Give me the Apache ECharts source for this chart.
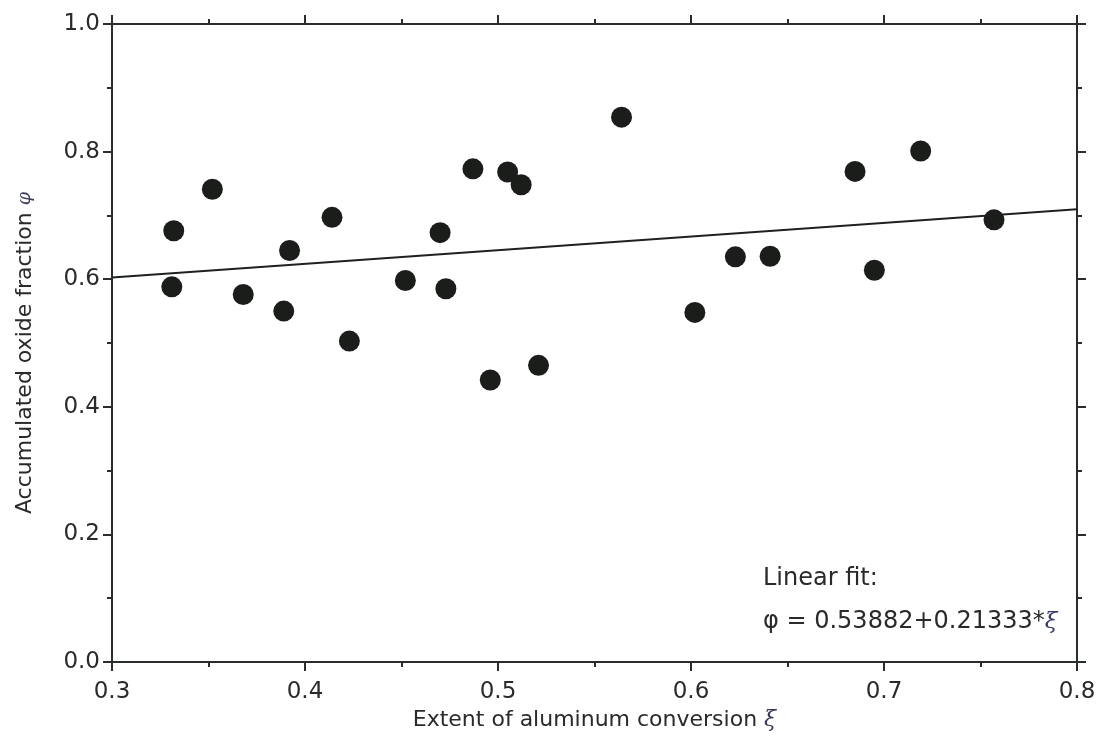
<!DOCTYPE html>
<html>
<head>
<meta charset="utf-8">
<script src="https://cdn.jsdelivr.net/npm/echarts@6/dist/echarts.min.js"></script>
<style>
html,body{margin:0;padding:0;background:#fff;}
#c{width:1099px;height:754px;}
</style>
</head>
<body>
<div id="c"></div>
<script>
// Data
const xi = [0.332, 0.331, 0.352, 0.368, 0.389, 0.392, 0.414, 0.423, 0.452, 0.470, 0.473, 0.487,
            0.496, 0.505, 0.512, 0.521, 0.564, 0.602, 0.623, 0.641, 0.685, 0.695, 0.719, 0.757];
const phi = [0.676, 0.588, 0.741, 0.576, 0.550, 0.645, 0.697, 0.503, 0.598, 0.673, 0.585, 0.773,
             0.442, 0.768, 0.748, 0.465, 0.854, 0.548, 0.635, 0.636, 0.769, 0.614, 0.801, 0.693];
const fitIntercept = 0.53882;
const fitSlope = 0.21333;
const fitRange = [0.3, 0.8];
const xTicks = [0.3, 0.8, 0.1];   // min, max, interval
const yTicks = [0.0, 1.0, 0.2];

const points = xi.map((x, i) => [x, phi[i]]);
const fitLine = fitRange.map(x => [x, fitIntercept + fitSlope * x]);

const axisColor = '#2a2e2a';
const textColor = '#2a2a2a';
const font = 'DejaVu Sans, Verdana, sans-serif';

function xAxisDef(pos, showLabel) {
  return {
    type: 'value', position: pos, min: xTicks[0], max: xTicks[1], interval: xTicks[2],
    axisLine: {show: true, onZero: false, lineStyle: {color: axisColor, width: 2}},
    axisTick: {show: true, inside: false, length: 9, lineStyle: {color: axisColor, width: 2}},
    minorTick: {show: true, splitNumber: 2, length: 5, lineStyle: {color: axisColor, width: 2}},
    splitLine: {show: false},
    axisLabel: {show: showLabel, color: textColor, fontFamily: font, fontSize: 23, margin: 19,
                formatter: v => v.toFixed(1)}
  };
}
function yAxisDef(pos, showLabel) {
  return {
    type: 'value', position: pos, min: yTicks[0], max: yTicks[1], interval: yTicks[2],
    axisLine: {show: true, onZero: false, lineStyle: {color: axisColor, width: 2}},
    axisTick: {show: true, inside: false, length: 9, lineStyle: {color: axisColor, width: 2}},
    minorTick: {show: true, splitNumber: 2, length: 5, lineStyle: {color: axisColor, width: 2}},
    splitLine: {show: false},
    axisLabel: {show: showLabel, color: textColor, fontFamily: font, fontSize: 23, margin: 12,
                formatter: v => v.toFixed(1)}
  };
}

const xb = xAxisDef('bottom', true);
xb.name = '{n|Extent of aluminum conversion }{i|ξ}';
xb.nameLocation = 'middle';
xb.nameGap = 45;
xb.nameTextStyle = {rich: {
  n: {fontFamily: font, fontSize: 22, color: textColor},
  i: {fontFamily: 'DejaVu Serif, serif', fontStyle: 'italic', fontSize: 22, color: '#3a3a5a'}
}};
const yl = yAxisDef('left', true);
yl.name = '{n|Accumulated oxide fraction }{i|φ}';
yl.nameLocation = 'middle';
yl.nameRotate = 90;
yl.nameGap = 76;
yl.nameTextStyle = {rich: {
  n: {fontFamily: font, fontSize: 22, color: textColor},
  i: {fontFamily: 'DejaVu Serif, serif', fontStyle: 'italic', fontSize: 19, color: '#3a3a5a',
      padding: [0, 20, 0, 0]}
}};

const chart = echarts.init(document.getElementById('c'), null, {renderer: 'canvas'});
chart.setOption({
  animation: false,
  backgroundColor: '#ffffff',
  grid: {left: 112, right: 22, top: 24, bottom: 92, containLabel: false},
  xAxis: [xb, xAxisDef('top', false)],
  yAxis: [yl, yAxisDef('right', false)],
  graphic: [
    {type: 'text', left: 763, top: 567, style: {text: 'Linear fit:', fill: textColor, font: '24px DejaVu Sans, Verdana, sans-serif'}},
    {type: 'text', left: 763, top: 610, style: {
      text: '{p|φ = 0.53882+0.21333*}{i|ξ}',
      rich: {
        p: {fill: textColor, fontFamily: font, fontSize: 24},
        i: {fill: '#3a3a6a', fontFamily: 'DejaVu Serif, serif', fontStyle: 'italic', fontSize: 23}
      }
    }}
  ],
  series: [
    {
      type: 'line', data: fitLine, xAxisIndex: 0, yAxisIndex: 0,
      showSymbol: false, symbol: 'none',
      lineStyle: {color: '#1e221e', width: 2}, z: 2
    },
    {
      type: 'scatter', data: points, xAxisIndex: 0, yAxisIndex: 0,
      symbol: 'circle', symbolSize: 21,
      itemStyle: {color: '#1b1d1b', opacity: 1}, z: 3
    }
  ]
});
</script>
</body>
</html>
